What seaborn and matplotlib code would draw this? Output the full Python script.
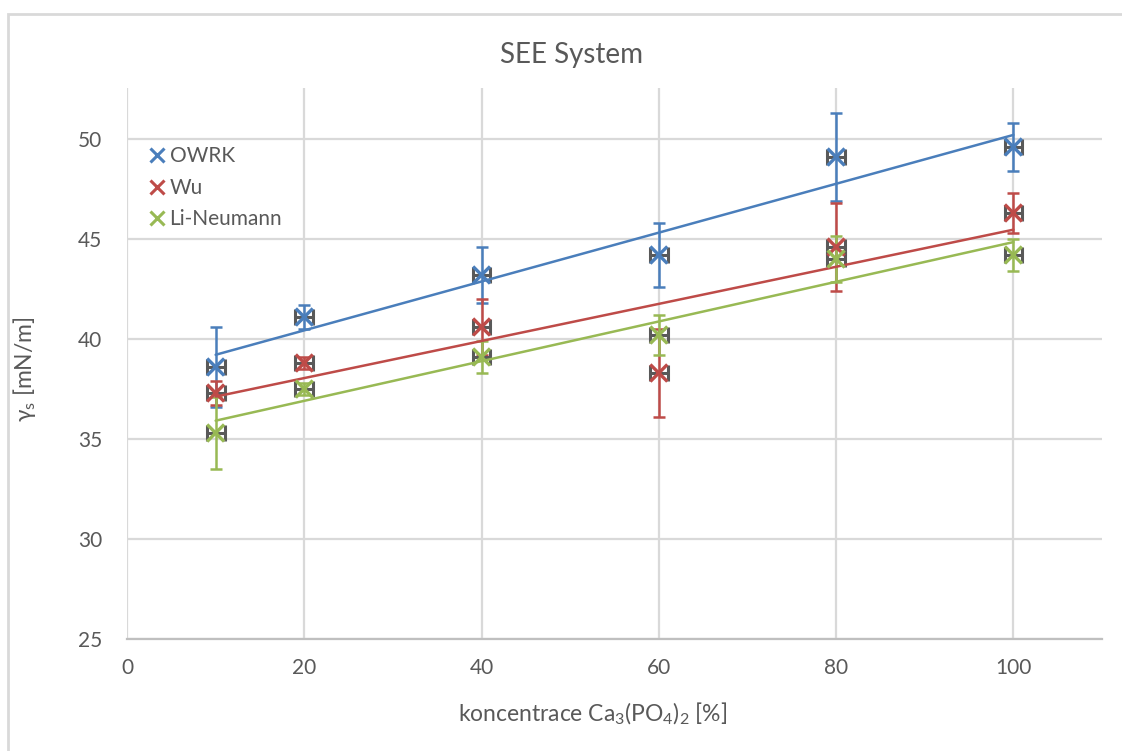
import numpy as np
import pandas as pd
import matplotlib
matplotlib.use("Agg")
import matplotlib.pyplot as plt
from matplotlib.patches import Rectangle
from matplotlib.lines import Line2D
import seaborn as sns

# Measured surface free energy for each Ca3(PO4)2 concentration
concentration = [10, 20, 40, 60, 80, 100]
owrk = [38.6, 41.1, 43.2, 44.2, 49.1, 49.6]
owrk_err = [2.0, 0.6, 1.4, 1.6, 2.2, 1.2]
wu = [37.3, 38.8, 40.6, 38.3, 44.6, 46.3]
wu_err = [0.6, 0.3, 1.4, 2.2, 2.2, 1.0]
li_neumann = [35.3, 37.5, 39.1, 40.2, 44.0, 44.2]
li_neumann_err = [1.8, 0.3, 0.8, 1.0, 1.15, 0.8]
conc_err = 1.0

series_names = ["OWRK", "Wu", "Li-Neumann"]
series_values = [owrk, wu, li_neumann]
series_errors = [owrk_err, wu_err, li_neumann_err]
colors = ["#4A7EBB", "#BE4B48", "#98B954"]

rows = []
for name, vals, errs in zip(series_names, series_values, series_errors):
    for c, v, e in zip(concentration, vals, errs):
        rows.append({"method": name, "conc": c, "gamma": v, "err": e})
df = pd.DataFrame(rows)

sns.set_theme(style="white")
plt.rcParams["font.family"] = ["Lato", "Open Sans", "DejaVu Sans"]
plt.rcParams["mathtext.default"] = "regular"
text_color = "#595959"
grid_color = "#D9D9D9"

fig = plt.figure(figsize=(11.22, 7.51), dpi=100)
ax = fig.add_axes([127 / 1122, 1 - 639 / 751, 975 / 1122, 551 / 751])

# chart frame
fig.patches.append(Rectangle((8 / 1122, -0.05), 1.2, 1.05 - 14 / 751,
                             transform=fig.transFigure, fill=False,
                             edgecolor=grid_color, linewidth=2, zorder=0))

for i, (name, color) in enumerate(zip(series_names, colors)):
    sub = df[df["method"] == name]
    ax.errorbar(sub["conc"], sub["gamma"], yerr=sub["err"], fmt="none",
                ecolor=color, elinewidth=1.8, capsize=4.5, capthick=1.8,
                zorder=3 + i * 0.1)
    ax.errorbar(sub["conc"], sub["gamma"], xerr=conc_err, fmt="none",
                ecolor="#595959", elinewidth=2.2, capsize=5.5, capthick=2.2,
                zorder=3.5 + i * 0.1)
    sns.regplot(data=sub, x="conc", y="gamma", scatter=False, ci=None,
                truncate=True, ax=ax,
                line_kws={"color": color, "linewidth": 1.8, "zorder": 4 + i * 0.1})

sns.scatterplot(data=df, x="conc", y="gamma", hue="method",
                palette=dict(zip(series_names, colors)), marker="x",
                s=150, linewidth=2.4, ax=ax, zorder=5, legend=False)

ax.set_xlim(0, 110)
ax.set_ylim(25, 52.55)
ax.set_xticks([0, 20, 40, 60, 80, 100])
ax.set_yticks([25, 30, 35, 40, 45, 50])
ax.grid(True, color=grid_color, linewidth=1.6)
ax.set_axisbelow(True)
for side in ["top", "right", "left"]:
    ax.spines[side].set_visible(False)
ax.spines["bottom"].set_color("#BFBFBF")
ax.spines["bottom"].set_linewidth(1.6)
ax.tick_params(axis="both", length=0, labelsize=15, labelcolor=text_color)
ax.tick_params(axis="y", pad=18)
ax.tick_params(axis="x", pad=14)

fig.text(571 / 1122, 1 - 55 / 751, "SEE System", fontsize=20,
         color=text_color, ha="center", va="center")
ax.set_xlabel(r"koncentrace Ca$_3$(PO$_4$)$_2$ [%]", fontsize=16.5, color=text_color)
ax.set_ylabel(r"γ$_s$ [mN/m]", fontsize=16.5, color=text_color)
ax.xaxis.set_label_coords(0.478, -0.113)
ax.yaxis.set_label_coords(-0.091, 0.49)

handles = [Line2D([], [], marker="x", linestyle="none", color=c,
                  markersize=10, markeredgewidth=2.2) for c in colors]
ax.legend(handles, series_names, loc="upper left",
          bbox_to_anchor=(0.003, 0.928), frameon=False, fontsize=15,
          handlelength=0.8, handletextpad=0.2, labelspacing=0.55,
          labelcolor=text_color)

fig.savefig("out.png", dpi=100, facecolor="white")
